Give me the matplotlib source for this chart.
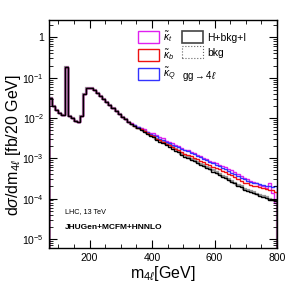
import numpy as np
import matplotlib
matplotlib.use("Agg")
import matplotlib.pyplot as plt
from matplotlib.patches import Patch
from matplotlib.ticker import FixedLocator, FixedFormatter, MultipleLocator, LogLocator, NullFormatter

plt.rcParams['font.family'] = ['Liberation Sans', 'DejaVu Sans']
plt.rcParams['mathtext.fontset'] = 'custom'
plt.rcParams['mathtext.rm'] = 'Liberation Sans'
plt.rcParams['mathtext.it'] = 'Liberation Sans:italic'

# 10 GeV bins from 70 to 800 GeV
edges = np.arange(70, 801, 10)

# low-mass part (70-320 GeV), shared by all curves
low = [0.031, 0.020, 0.016, 0.013, 0.012, 0.18, 0.0115, 0.010, 0.0085, 0.0078,
       0.011, 0.040, 0.057, 0.055, 0.049, 0.042, 0.036, 0.030, 0.025, 0.021,
       0.018, 0.015, 0.0125, 0.0105, 0.0092, 0.0081]

# tails from 330 GeV
full_tail = [0.0071, 0.0063, 0.0056, 0.0050, 0.0045, 0.0040, 0.0036, 0.0033, 0.0029, 0.0026,
             0.0024, 0.0021, 0.0019, 0.0017, 0.0015, 0.0014, 0.0012, 0.0011, 0.00101, 0.00093,
             0.00085, 0.00078, 0.00070, 0.00064, 0.00059, 0.00053, 0.00047,
             0.00043, 0.00039, 0.00035, 0.00032, 0.00029, 0.00026, 0.00024, 0.00021, 0.00019, 0.000168,
             0.000158, 0.000148, 0.000138, 0.000128, 0.000118, 0.000110, 0.000102, 0.000095, 0.000090, 0.000085]
bkg_tail = [0.0073, 0.0065, 0.0058, 0.0052, 0.0047, 0.0042, 0.0038, 0.0035, 0.0031, 0.0028,
            0.0026, 0.0023, 0.0021, 0.0019, 0.0017, 0.0015, 0.0013, 0.0012, 0.00108, 0.00099,
            0.00090, 0.00082, 0.00074, 0.00068, 0.00062, 0.00056, 0.00050,
            0.00045, 0.00041, 0.00037, 0.00034, 0.00030, 0.00027, 0.00025, 0.00022, 0.00020, 0.000176,
            0.000166, 0.000155, 0.000145, 0.000134, 0.000124, 0.000115, 0.000107, 0.000100, 0.000094, 0.000089]
kb_tail = [0.0072, 0.0064, 0.0058, 0.0052, 0.0047, 0.0042, 0.0038, 0.0035, 0.0031, 0.0028,
           0.0026, 0.0023, 0.0021, 0.0019, 0.0017, 0.0016, 0.0014, 0.0013, 0.0012, 0.00111,
           0.00102, 0.00094, 0.00086, 0.00079, 0.00073, 0.00067, 0.00062,
           0.00058, 0.00053, 0.00049, 0.00045, 0.00041, 0.00038, 0.00034, 0.00031, 0.00028, 0.00025,
           0.00024, 0.00022, 0.00021, 0.00020, 0.00019, 0.00018, 0.00017, 0.000165, 0.000160, 0.000145]
kq_tail = [0.0073, 0.0066, 0.0060, 0.0054, 0.0049, 0.0045, 0.0041, 0.0038, 0.0035, 0.0031,
           0.0029, 0.0026, 0.0024, 0.0022, 0.0020, 0.0019, 0.0017, 0.0016, 0.0015, 0.00138,
           0.00127, 0.00116, 0.00106, 0.00097, 0.00089, 0.00081, 0.00075,
           0.00069, 0.00064, 0.00058, 0.00053, 0.00049, 0.00044, 0.00040, 0.00036, 0.00033, 0.00030,
           0.00028, 0.00026, 0.00025, 0.00024, 0.00023, 0.00022, 0.00021, 0.00020, 0.00019, 0.00021]
kt_tail = [0.0074, 0.0068, 0.0061, 0.0056, 0.0052, 0.0046, 0.0043, 0.0042, 0.0037, 0.0033,
           0.0032, 0.0027, 0.0025, 0.0024, 0.0021, 0.0020, 0.0018, 0.0016, 0.0016, 0.00142,
           0.00132, 0.00122, 0.00112, 0.00100, 0.00094, 0.00088, 0.00080,
           0.00076, 0.00070, 0.00064, 0.00062, 0.00054, 0.00050, 0.00047, 0.00041, 0.00037, 0.00032,
           0.00031, 0.00028, 0.00026, 0.00024, 0.00022, 0.00020, 0.00018, 0.00024, 0.00014, 0.000078]

h_full = np.array(low + full_tail)
h_bkg = np.array(low + bkg_tail)
h_kb = np.array(low + kb_tail)
h_kq = np.array(low + kq_tail)
h_kt = np.array(low + kt_tail)

fig = plt.figure(figsize=(2.91, 2.82), dpi=100)
ax = fig.add_axes([0.168, 0.121, 0.784, 0.808])

ax.stairs(h_bkg, edges, color="#999999", lw=1.6)
ax.stairs(h_kt, edges, color="#e020f0", lw=1.0)
ax.stairs(h_kq, edges, color="#3333ff", lw=1.0)
ax.stairs(h_kb, edges, color="#ee1111", lw=1.0)
ax.stairs(h_full, edges, color="black", lw=1.0)

ax.set_yscale("log")
ax.set_xlim(70, 800)
ax.set_ylim(6e-6, 2.7)

ax.yaxis.set_major_locator(FixedLocator([1e-5, 1e-4, 1e-3, 1e-2, 1e-1, 1]))
ax.yaxis.set_major_formatter(FixedFormatter([r"$10^{-5}$", r"$10^{-4}$", r"$10^{-3}$",
                                             r"$10^{-2}$", r"$10^{-1}$", "1"]))
ax.yaxis.set_minor_locator(LogLocator(base=10, subs=np.arange(2, 10), numticks=20))
ax.yaxis.set_minor_formatter(NullFormatter())
ax.xaxis.set_major_locator(FixedLocator([200, 400, 600, 800]))
ax.xaxis.set_minor_locator(MultipleLocator(50))

ax.tick_params(which="both", direction="in", top=True, right=True, labelsize=7.5)
ax.tick_params(which="major", length=6, width=0.8)
ax.tick_params(which="minor", length=3, width=0.6)
for s in ax.spines.values():
    s.set_linewidth(1.0)

ax.set_xlabel(r"m$_{4\ell}$[GeV]", fontsize=11.5, labelpad=1)
ax.set_ylabel(r"d$\sigma$/dm$_{4\ell}$ [fb/20 GeV]", fontsize=11.5, labelpad=1)
ax.yaxis.set_label_coords(-0.115, 0.45)

handles = [Patch(facecolor="none", edgecolor="#e020f0", lw=1.0),
           Patch(facecolor="none", edgecolor="#ee1111", lw=1.0),
           Patch(facecolor="none", edgecolor="#3333ff", lw=1.0),
           Patch(facecolor="none", edgecolor="#444444", lw=1.2),
           Patch(facecolor="none", edgecolor="#666666", lw=0.8, ls=":"),
           Patch(facecolor="none", edgecolor="none")]
labels = [r"$\tilde{\kappa}_{t}$", r"$\tilde{\kappa}_{b}$", r"$\tilde{\kappa}_{Q}$",
          "H+bkg+I", "bkg", ""]
ax.legend(handles, labels, ncol=2, loc="upper left", bbox_to_anchor=(0.36, 0.99),
          frameon=False, fontsize=7.5, handlelength=2.0, handleheight=1.4,
          columnspacing=0.6, handletextpad=0.4, labelspacing=0.3, borderpad=0.2)

ax.text(0.585, 0.74, r"gg$\rightarrow$4$\ell$", transform=ax.transAxes, fontsize=7)
ax.text(0.07, 0.153, "LHC, 13 TeV", transform=ax.transAxes, fontsize=5.2)
ax.text(0.07, 0.085, "JHUGen+MCFM+HNNLO", transform=ax.transAxes, fontsize=6,
        fontweight="bold")

fig.savefig("out.png", dpi=100)
